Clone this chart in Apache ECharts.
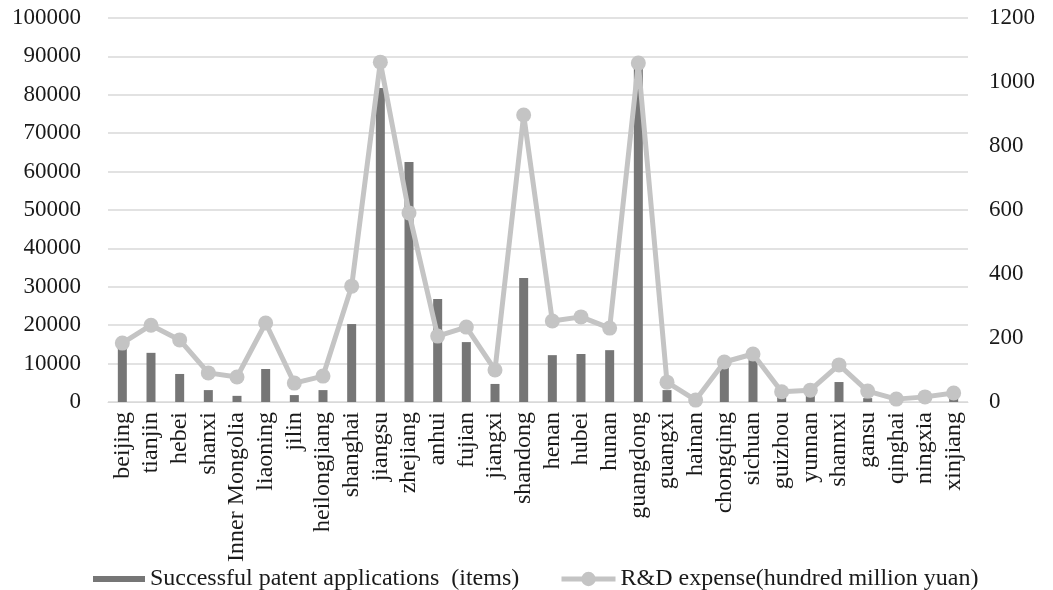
<!DOCTYPE html>
<html>
<head>
<meta charset="utf-8">
<script src="https://cdn.jsdelivr.net/npm/echarts@6/dist/echarts.min.js"></script>
<style>
html,body{margin:0;padding:0;background:#fff;}
#chart{width:1053px;height:590px;}
</style>
</head>
<body>
<div id="chart"></div>
<script>
const categories = ["beijing","tianjin","hebei","shanxi","Inner Mongolia","liaoning","jilin","heilongjiang","shanghai","jiangsu","zhejiang","anhui","fujian","jiangxi","shandong","henan","hubei","hunan","guangdong","guangxi","hainan","chongqing","sichuan","guizhou","yunnan","shannxi","gansu","qinghai","ningxia","xinjiang"];
const patents = [14000,12800,7300,3100,1600,8600,1800,3100,20300,81800,62500,26800,15600,4700,32300,12200,12500,13500,88000,3100,300,9100,10900,1500,1600,5200,1000,200,300,800];
const rdExpense = [184,240,194,91,78,247,59,81,362,1062,591,206,234,100,897,253,266,231,1059,62,6,125,150,32,37,116,34,9,16,28];
const leftTicks = {min:0,max:100000,interval:10000};
const rightTicks = {min:0,max:1200,interval:200};
const barName = "Successful patent applications  (items)";
const lineName = "R&D expense(hundred million yuan)";

const font = "'Liberation Serif','Times New Roman',serif";
const textColor = "#1a1a1a";
const plain = v => String(v);
const chart = echarts.init(document.getElementById('chart'));
chart.setOption({
  animation:false,
  backgroundColor:'#fff',
  textStyle:{fontFamily:font,color:textColor},
  grid:{left:108,right:85,top:18,bottom:188,containLabel:false},
  legend:[
    {data:[barName],left:88,top:562,itemWidth:52,itemHeight:6,icon:'rect',
     textStyle:{fontFamily:font,fontSize:24,color:textColor},itemGap:10},
    {data:[lineName],left:554,top:562,itemWidth:54,itemHeight:18,
     lineStyle:{width:5,color:'#c4c4c4'},
     textStyle:{fontFamily:font,fontSize:24,color:textColor},itemGap:10}
  ],
  xAxis:{type:'category',data:categories,
    axisLine:{lineStyle:{color:'#d9d9d9',width:1}},
    axisTick:{show:false},
    axisLabel:{rotate:90,interval:0,fontFamily:font,fontSize:24,color:textColor,margin:10}},
  yAxis:[
    {type:'value',min:leftTicks.min,max:leftTicks.max,interval:leftTicks.interval,
     axisLine:{show:false},axisTick:{show:false},
     splitLine:{lineStyle:{color:'#d9d9d9',width:1.5}},
     axisLabel:{fontFamily:font,fontSize:23,color:textColor,margin:27,formatter:plain}},
    {type:'value',min:rightTicks.min,max:rightTicks.max,interval:rightTicks.interval,
     axisLine:{show:false},axisTick:{show:false},splitLine:{show:false},
     axisLabel:{fontFamily:font,fontSize:23,color:textColor,margin:21,formatter:plain}}
  ],
  series:[
    {name:barName,type:'bar',data:patents,barWidth:9,itemStyle:{color:'#767676'},yAxisIndex:0},
    {name:lineName,type:'line',data:rdExpense,yAxisIndex:1,symbol:'circle',symbolSize:15,
     lineStyle:{color:'#c4c4c4',width:5},itemStyle:{color:'#c4c4c4'}}
  ]
});
</script>
</body>
</html>
